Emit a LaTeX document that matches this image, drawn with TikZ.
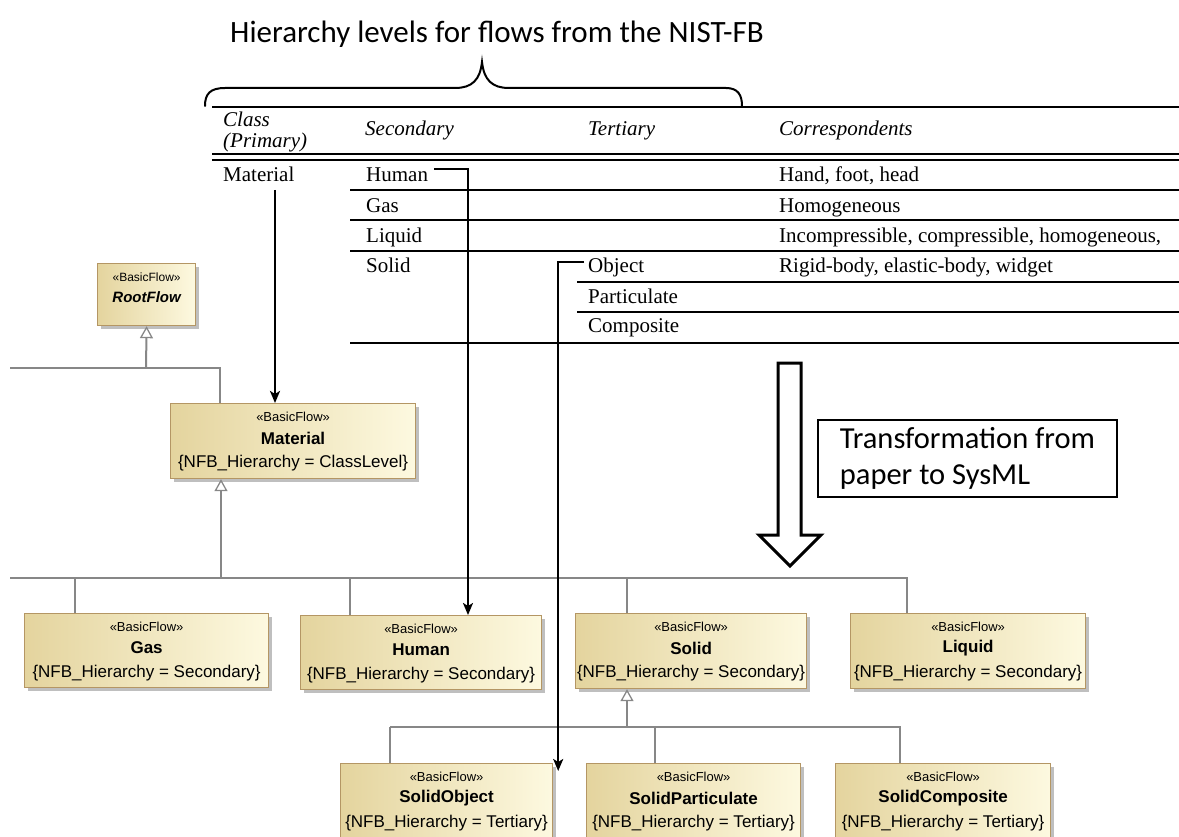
\documentclass[tikz,border=0pt]{standalone}
\usepackage{fontspec}
\setmainfont{Liberation Serif}
\newfontfamily\calib{Carlito}
\newfontfamily\arialf{Liberation Sans}
\usetikzlibrary{arrows.meta,shadows,calc}
\definecolor{umlleft}{RGB}{228,212,158}
\definecolor{umlright}{RGB}{253,249,224}
\definecolor{umlborder}{RGB}{180,150,100}
\definecolor{conngray}{RGB}{135,135,135}
\tikzset{
  umlb/.style={draw=umlborder, line width=1.2pt, left color=umlleft, right color=umlright,
    drop shadow={shadow xshift=3pt, shadow yshift=-3pt, fill=black, opacity=0.25}, inner sep=0pt},
  stereo/.style={font=\arialf\fontsize{13}{15}\selectfont, inner sep=0pt},
  uname/.style={font=\arialf\bfseries\fontsize{17}{19}\selectfont, inner sep=0pt},
  utag/.style={font=\arialf\fontsize{17}{19}\selectfont, inner sep=0pt},
  conn/.style={draw=conngray, line width=2pt},
  gen/.style={conn, -{Triangle[open, length=12pt, width=13pt, line width=1.3pt]}},
  blk/.style={draw=black, line width=2.2pt, -{Stealth[length=12pt, width=10pt, inset=3pt]}},
  tcell/.style={anchor=base west, inner sep=0pt, font=\fontsize{21}{24}\selectfont},
  thead/.style={anchor=base west, inner sep=0pt, font=\itshape\fontsize{21}{24}\selectfont},
  trule/.style={line width=1.5pt},
}
\newcommand\umlbox[7]{%
  \node[umlb, anchor=north west, minimum width=#4pt-#2pt, minimum height=#5pt-#3pt] (#1) at (#2,#3) {};
  \node[stereo] (#1s) at ($(#1.north)+(0,14)$) {«BasicFlow»};
  \node[uname] (#1n) at ($(#1.north)+(0,35)$) {#6};
  \node[utag] (#1t) at ($(#1.north)+(0,60)$) {#7};
}
\begin{document}
\begin{tikzpicture}[x=1pt, y=-1pt]
\useasboundingbox (0,0) rectangle (1179,837);
\clip (0,0) rectangle (1179,837);

% title and brace
\node[font=\calib\fontsize{31}{36}\selectfont, inner sep=0pt] (title) at (497,34) {Hierarchy levels for flows from the NIST-FB};
\draw[line width=2pt, line cap=round] (205,106) .. controls (205,94) and (210,88) .. (225,88) -- (455,88)
  .. controls (472,88) and (480,80) .. (482,62) .. controls (484,80) and (492,88) .. (509,88) -- (726,88)
  .. controls (738,88) and (742,95) .. (742,106);

% table rules
\draw[line width=2.5pt] (212,107) -- (1179,107);
\draw[line width=2.5pt] (212,154) -- (1179,154);
\draw[line width=1.6pt] (212,160) -- (1179,160);
\draw[trule] (350,190) -- (1179,190);
\draw[trule] (350,220) -- (1179,220);
\draw[trule] (350,251) -- (1179,251);
\draw[trule] (577,282) -- (1179,282);
\draw[trule] (577,312) -- (1179,312);
\draw[trule] (350,343) -- (1179,343);

% table headers
\node[thead] (hcl) at (223,127) {Class};
\node[thead] (hpr) at (223,148) {(Primary)};
\node[thead] (hsec) at (365,136) {Secondary};
\node[thead] (hter) at (588,136) {Tertiary};
\node[thead] (hcor) at (779,136) {Correspondents};

% table cells
\node[tcell] (matT) at (223,182) {Material};
\node[tcell] (humT) at (366,182) {Human};
\node[tcell] (c1) at (779,182) {Hand, foot, head};
\node[tcell] (gasT) at (366,213) {Gas};
\node[tcell] (c2) at (779,213) {Homogeneous};
\node[tcell] (liqT) at (366,243) {Liquid};
\node[tcell] (c3) at (779,243) {Incompressible, compressible, homogeneous,};
\node[tcell] (solT) at (366,273) {Solid};
\node[tcell] (objT) at (588,273) {Object};
\node[tcell] (c4) at (779,273) {Rigid-body, elastic-body, widget};
\node[tcell] (parT) at (588,304) {Particulate};
\node[tcell] (comT) at (588,333) {Composite};

% transformation arrow and box
\draw[line width=3pt, line join=miter, fill=white] (778,363) -- (801,363) -- (801,535) -- (821,535) -- (790,566) -- (759,535) -- (778,535) -- cycle;
\node[draw, line width=2pt, minimum width=299pt, minimum height=77pt, align=left,
  font=\calib\fontsize{30.5}{36}\selectfont] (tbox) at (967.5,458.5) {Transformation from\\paper to SysML};

% UML boxes
\node[umlb, anchor=north west, minimum width=98pt, minimum height=62pt] (root) at (97,263) {};
\node[stereo, font=\arialf\fontsize{12}{14}\selectfont] (roots) at ($(root.north)+(0,14)$) {«BasicFlow»};
\node[uname, font=\arialf\bfseries\itshape\fontsize{15}{17}\selectfont] (rootn) at ($(root.north)+(0,34)$) {RootFlow};

\umlbox{mat}{170}{403}{415}{478}{Material}{\{NFB\_Hierarchy = ClassLevel\}}
\umlbox{gas}{24}{613}{268}{687}{Gas}{\{NFB\_Hierarchy = Secondary\}}
\umlbox{hum}{300}{615}{541}{689}{Human}{\{NFB\_Hierarchy = Secondary\}}
\umlbox{sol}{575}{613}{806}{688}{Solid}{\{NFB\_Hierarchy = Secondary\}}
\umlbox{liq}{850}{613}{1085}{688}{Liquid}{\{NFB\_Hierarchy = Secondary\}}
\umlbox{sobj}{340}{763}{552}{845}{SolidObject}{\{NFB\_Hierarchy = Tertiary\}}
\umlbox{spar}{586}{763}{800}{845}{SolidParticulate}{\{NFB\_Hierarchy = Tertiary\}}
\umlbox{scom}{835}{763}{1050}{845}{SolidComposite}{\{NFB\_Hierarchy = Tertiary\}}

% generalizations
\coordinate (rj) at (146,368);
\coordinate (rl) at (10,368);
\coordinate (rm) at (220,368);
\draw[conn] (rl) -- (rm) -- (mat.north -| rm);
\draw[gen] (rj) -- (root.south);

\coordinate (mj) at (221,578);
\coordinate (ml) at (10,578);
\coordinate (dg) at (75,578);
\coordinate (dh) at (350,578);
\coordinate (ds) at (627,578);
\coordinate (dl) at (907,578);
\draw[conn] (ml) -- (dl) -- (liq.north -| dl);
\draw[conn] (dg) -- (gas.north -| dg);
\draw[conn] (dh) -- (hum.north -| dh);
\draw[conn] (ds) -- (sol.north -| ds);
\draw[gen] (mj) -- (mat.south -| mj);

\coordinate (sj) at (627,727);
\coordinate (so) at (390,727);
\coordinate (sp) at (655,727);
\coordinate (sc) at (900,727);
\draw[conn] (so) -- (sc) -- (scom.north -| sc);
\draw[conn] (so) -- (sobj.north -| so);
\draw[conn] (sp) -- (spar.north -| sp);
\draw[gen] (sj) -- (sol.south -| sj);

% mapping arrows
\coordinate (ma) at (275,190);
\draw[blk, line width=2.6pt] (ma) -- (mat.north -| ma);
\draw[blk] ($(humT.east)+(6,-6)$) -| ($(hum.north west)+(168,0)$);
\draw[blk] ($(objT.west)+(-4,-6)$) -| ($(sobj.north east)+(5,8)$);
\end{tikzpicture}
\end{document}
